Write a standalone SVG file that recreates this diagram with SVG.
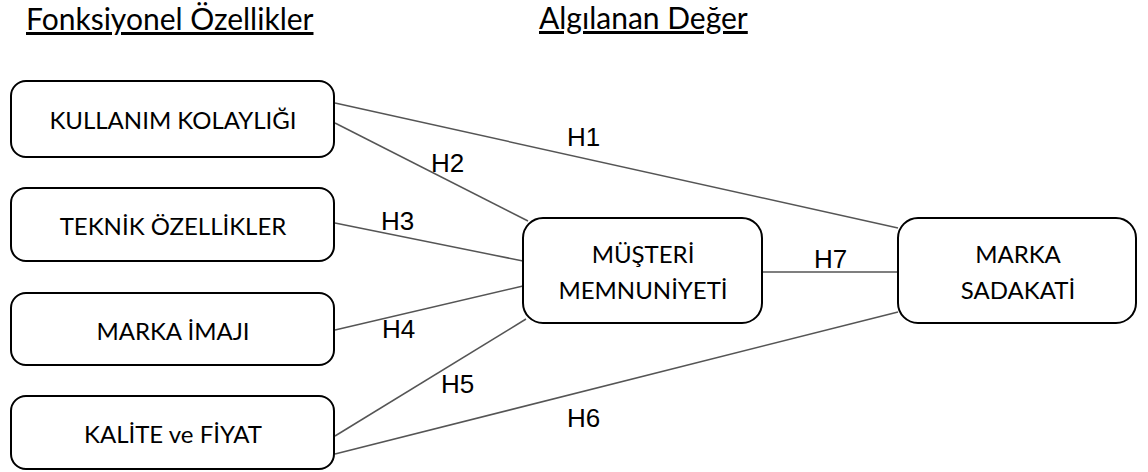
<svg xmlns="http://www.w3.org/2000/svg" width="1148" height="472" viewBox="0 0 1148 472">
<style>
.box{fill:#fff;stroke:#000;stroke-width:2}
.nt{font-family:Lato,"Open Sans",sans-serif;font-size:24px;fill:#000;text-anchor:middle}
.hd{font-family:Lato,"Open Sans",sans-serif;font-size:30px;fill:#000;text-decoration:underline}
.cn{stroke:#555;stroke-width:1.5;fill:none}
.lb{font-family:"Liberation Sans",Arial,sans-serif;font-size:26px;fill:#000}
</style>
<rect width="1148" height="472" fill="#fff"/>
<g id="headers">
<text class="hd" x="26" y="30">Fonksiyonel Özellikler</text>
<text class="hd" x="539" y="29">Algılanan Değer</text>
</g>
<g id="connectors">
<line class="cn" x1="335" y1="103" x2="898" y2="228"/>
<line class="cn" x1="335" y1="123" x2="528" y2="221"/>
<line class="cn" x1="335" y1="223" x2="523" y2="261"/>
<line class="cn" x1="335" y1="330" x2="523" y2="286"/>
<line class="cn" x1="335" y1="436" x2="526" y2="319"/>
<line class="cn" x1="335" y1="454" x2="898" y2="312"/>
<line class="cn" x1="762" y1="272" x2="898" y2="272"/>
<text class="lb" x="567" y="146">H1</text>
<text class="lb" x="431" y="172">H2</text>
<text class="lb" x="381" y="230">H3</text>
<text class="lb" x="382" y="338">H4</text>
<text class="lb" x="441" y="393">H5</text>
<text class="lb" x="567" y="427">H6</text>
<text class="lb" x="814" y="268">H7</text>
</g>
<g id="kullanim">
<rect class="box" x="11" y="81" width="323" height="76" rx="15"/>
<text class="nt" x="173" y="129">KULLANIM KOLAYLIĞI</text>
</g>
<g id="teknik">
<rect class="box" x="11" y="188" width="323" height="73" rx="15"/>
<text class="nt" x="173" y="235">TEKNİK ÖZELLİKLER</text>
</g>
<g id="imaj">
<rect class="box" x="11" y="293" width="323" height="72" rx="15"/>
<text class="nt" x="173" y="340">MARKA İMAJI</text>
</g>
<g id="kalite">
<rect class="box" x="11" y="396" width="323" height="73" rx="15"/>
<text class="nt" x="173" y="443">KALİTE ve FİYAT</text>
</g>
<g id="memnuniyet">
<rect class="box" x="523" y="218" width="239" height="105" rx="20"/>
<text class="nt" x="643" y="263">MÜŞTERİ</text>
<text class="nt" x="643" y="299">MEMNUNİYETİ</text>
</g>
<g id="sadakat">
<rect class="box" x="898" y="218" width="238" height="105" rx="20"/>
<text class="nt" x="1018" y="263">MARKA</text>
<text class="nt" x="1018" y="299">SADAKATİ</text>
</g>
</svg>
